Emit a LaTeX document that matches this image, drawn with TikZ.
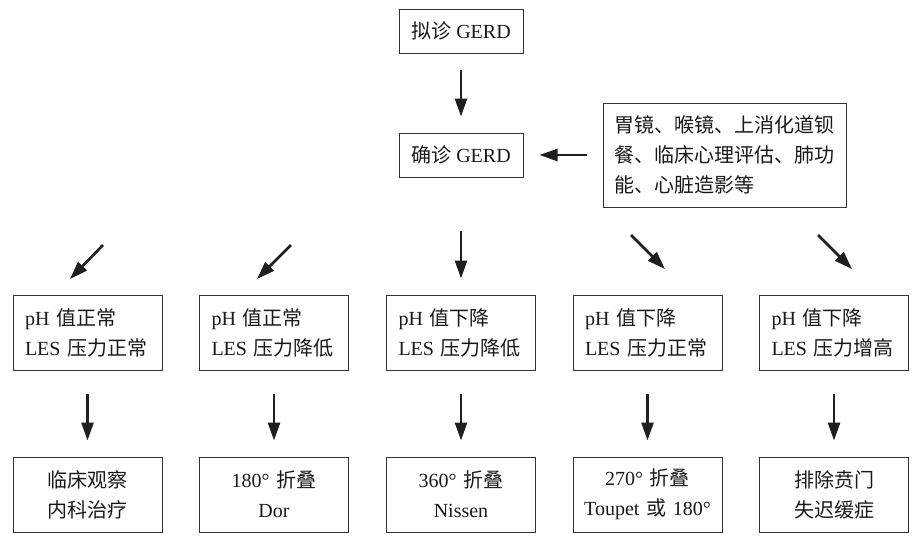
\documentclass[tikz,border=0pt]{standalone}
\usepackage{fontspec}
\setmainfont{Liberation Serif}
\newfontfamily\cjk{Noto Sans CJK SC}
\usetikzlibrary{arrows.meta}
\begin{document}
\begin{tikzpicture}[x=1pt,y=-1pt,
  box/.style={draw=black!80, line width=1pt, inner ysep=0pt, text=black!90,
    font=\fontsize{20}{30}\selectfont},
  leftbox/.style={box, align=left, text width=125pt, inner xsep=12pt, minimum height=75pt},
  midbox/.style={box, align=center, text width=129pt, inner xsep=10pt, minimum height=75pt},
  arr/.style={draw=black!88, line width=2.6pt, -{Triangle[length=18pt,width=12pt]}}
]
\useasboundingbox (0,0) rectangle (917,547);

\node[box, minimum width=124pt, minimum height=44pt] (a) at (461,31) {{\cjk 拟诊} GERD};
\node[box, minimum width=124pt, minimum height=44pt] (b) at (461,155) {{\cjk 确诊} GERD};
\node[box, align=left, text width=221pt, inner xsep=11pt, minimum height=104pt] (r) at (724.5,155)
  {\cjk 胃镜、喉镜、上消化道钡\\ \cjk 餐、临床心理评估、肺功\\ \cjk 能、心脏造影等};

\node[leftbox] (c1) at (87.5,332.5) {pH {\cjk 值正常}\\LES {\cjk 压力正常}};
\node[leftbox] (c2) at (274,332.5) {pH {\cjk 值正常}\\LES {\cjk 压力降低}};
\node[leftbox] (c3) at (461,332.5) {pH {\cjk 值下降}\\LES {\cjk 压力降低}};
\node[leftbox] (c4) at (647.5,332.5) {pH {\cjk 值下降}\\LES {\cjk 压力正常}};
\node[leftbox] (c5) at (834,332.5) {pH {\cjk 值下降}\\LES {\cjk 压力增高}};

\node[midbox] (d1) at (87.5,494.5) {{\cjk 临床观察}\\{\cjk 内科治疗}};
\node[midbox] (d2) at (274,494.5) {180° {\cjk 折叠}\\Dor};
\node[midbox] (d3) at (461,494.5) {360° {\cjk 折叠}\\Nissen};
\node[midbox] (d4) at (647.5,494.5) {270° {\cjk 折叠}\\Toupet {\cjk 或} 180°};
\node[midbox] (d5) at (834,494.5) {{\cjk 排除贲门}\\{\cjk 失迟缓症}};

\draw[arr, shorten <=16pt, shorten >=16pt] (a.south) -- (b.north);
\draw[arr, shorten <=16pt, shorten >=16pt] (r.west) -- (b.east);

\coordinate (s1) at (103,245); \coordinate (e1) at (70,279);
\coordinate (s2) at (291,245); \coordinate (e2) at (257,279);
\coordinate (s4) at (631,235); \coordinate (e4) at (665,269);
\coordinate (s5) at (818,235); \coordinate (e5) at (852,269);
\draw[arr] (s1) -- (e1);
\draw[arr] (s2) -- (e2);
\draw[arr, shorten <=53pt, shorten >=16pt] (b.south) -- (c3.north);
\draw[arr] (s4) -- (e4);
\draw[arr] (s5) -- (e5);

\foreach \i in {1,...,5} {
  \draw[arr, shorten <=23pt, shorten >=16pt] (c\i.south) -- (d\i.north);
}
\end{tikzpicture}
\end{document}
